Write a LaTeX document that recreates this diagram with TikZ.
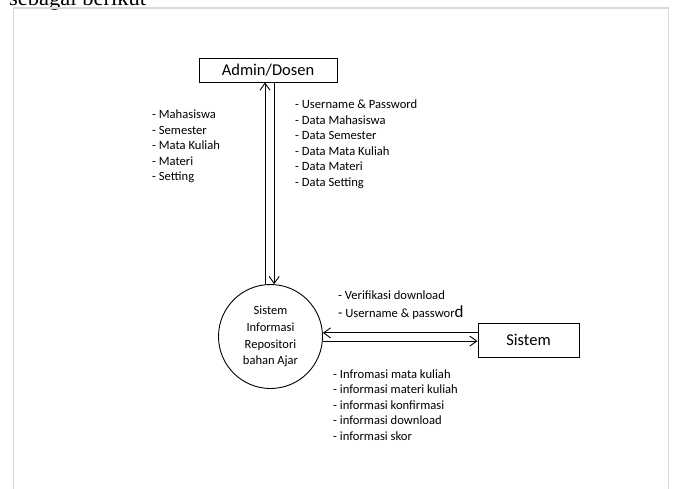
\documentclass[tikz,border=0pt]{standalone}
\usepackage{fontspec}
\setmainfont{Carlito}
\newfontfamily\bodyserif{Liberation Serif}
\usetikzlibrary{arrows.meta}
\definecolor{framegray}{HTML}{D9D9D9}
\begin{document}
\begin{tikzpicture}[x=1pt,y=-1pt,
  entity/.style={draw, line width=0.9pt, rectangle, inner sep=0pt, font=\fontsize{16.5}{19}\selectfont},
  process/.style={draw, line width=0.9pt, circle, inner sep=0pt, minimum size=104pt, align=center, font=\fontsize{12.5}{16.7}\selectfont},
  flow/.style={line width=0.9pt, -{Straight Barb[length=7pt,width=10pt,line width=0.9pt]}},
  note/.style={align=left, anchor=west, inner sep=0pt, font=\fontsize{12.6}{15.5}\selectfont},
]
\useasboundingbox (0,0) rectangle (675,488);

% page text above the figure frame
\node[anchor=base west, inner sep=0pt, font=\bodyserif\fontsize{22.5}{26}\selectfont] (caption) at (9,5) {sebagai berikut};

% figure frame
\draw[draw=framegray, line width=1.8pt] (13.5,8) rectangle (668.5,530);

% entities and process
\node[entity, minimum width=138pt, minimum height=24pt] (admin) at (268,70) {Admin/Dosen};
\node[process] (proc) at (270.5,336.5) {Sistem\\Informasi\\Repositori\\bahan Ajar};
\node[entity, minimum width=101pt, minimum height=34pt] (sistem) at (528.5,340) {Sistem};

% data flows
\draw[flow] (proc.96) -- (proc.96 |- admin.south);
\draw[flow] (proc.86 |- admin.south) -- (proc.86);
\draw[flow] (proc.4 -| sistem.west) -- (proc.4);
\draw[flow] (proc.-5) -- (proc.-5 -| sistem.west);

% flow labels
\node[note] (inadmin) at (152,146.5) {- Mahasiswa\\- Semester\\- Mata Kuliah\\- Materi\\- Setting};
\node[note] (outadmin) at (295,144) {- Username \& Password\\- Data Mahasiswa\\- Data Semester\\- Data Mata Kuliah\\- Data Materi\\- Data Setting};
\node[note] (verif) at (338,295) {- Verifikasi download};
\node[note] (login) at (338,313) {{\fontsize{14}{15}\selectfont -} Username \& passwor{\fontsize{17}{18}\selectfont d}};
\node[note] (info) at (333,405) {- Infromasi mata kuliah\\- informasi materi kuliah\\- informasi konfirmasi\\- informasi download\\- informasi skor};
\end{tikzpicture}
\end{document}
